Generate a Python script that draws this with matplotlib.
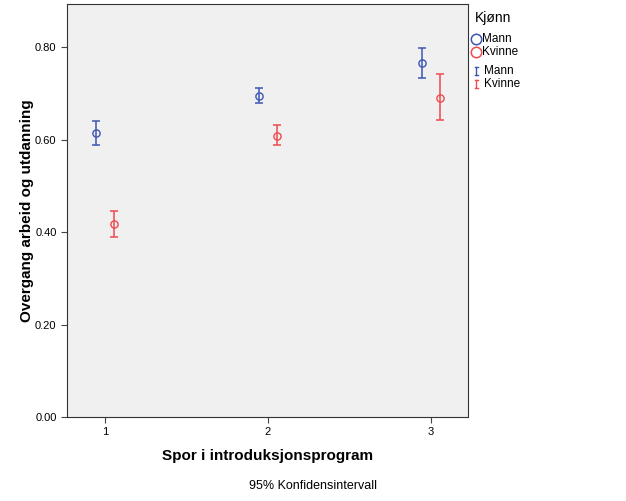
import numpy as np
import matplotlib
matplotlib.use("Agg")
import matplotlib.pyplot as plt

plt.rcParams['font.family'] = ['Liberation Sans', 'DejaVu Sans']

# data
spor = [1, 2, 3]
mann_mean = [0.614, 0.693, 0.765]
mann_lo = [0.589, 0.679, 0.732]
mann_hi = [0.641, 0.711, 0.798]
kvinne_mean = [0.418, 0.608, 0.690]
kvinne_lo = [0.389, 0.588, 0.642]
kvinne_hi = [0.446, 0.631, 0.741]

blue = '#3d56b3'
red = '#ee4a50'

fig = plt.figure(figsize=(6.26, 5.01), dpi=100)
ax = fig.add_axes([67/626, 1-417/501, (468-67)/626, (417-4)/501])
ax.set_facecolor('#f0f0f0')

x = np.array(spor)
for off, m, lo, hi, c in [(-0.055, mann_mean, mann_lo, mann_hi, blue),
                          (0.055, kvinne_mean, kvinne_lo, kvinne_hi, red)]:
    m = np.array(m)
    err = [m - np.array(lo), np.array(hi) - m]
    ax.errorbar(x + off, m, yerr=err, fmt='none', ecolor=c, elinewidth=1.1,
                capsize=3, capthick=1.1)
    ax.plot(x + off, m, 'o', mfc='none', mec=c, ms=5.2, mew=1.0)

ax.set_xlim(0.767, 3.227)
ax.set_ylim(0, 0.893)
ax.set_xticks(spor)
ax.set_yticks([0, 0.2, 0.4, 0.6, 0.8])
ax.set_yticklabels(['0.00', '0.20', '0.40', '0.60', '0.80'])
ax.tick_params(labelsize=8, length=4, color='#444444')
for s in ax.spines.values():
    s.set_color('#333333')

ax.set_xlabel('Spor i introduksjonsprogram', fontsize=11, fontweight='bold', labelpad=8)
ax.set_ylabel('Overgang arbeid og utdanning', fontsize=11, fontweight='bold', labelpad=1)
fig.text(313/626, 1-486/501, '95% Konfidensintervall', ha='center', va='center', fontsize=9)

# legend drawn by hand
fig.text(475/626, 1-18/501, 'Kjønn', fontsize=10, va='center')
fig.lines.append(plt.Line2D([476/626], [1-39/501], marker='o', mfc='none', mec=blue,
                            ms=7.5, mew=1.1, transform=fig.transFigure))
fig.lines.append(plt.Line2D([476/626], [1-52/501], marker='o', mfc='none', mec=red,
                            ms=7.5, mew=1.1, transform=fig.transFigure))
fig.text(482/626, 1-39/501, 'Mann', fontsize=8.5, va='center')
fig.text(482/626, 1-52/501, 'Kvinne', fontsize=8.5, va='center')
for yy, c, lab in [(71, blue, 'Mann'), (84, red, 'Kvinne')]:
    fig.lines.append(plt.Line2D([476/626, 476/626], [1-(yy-4)/501, 1-(yy+4)/501],
                                color=c, lw=1, transform=fig.transFigure))
    for cy in (yy-4, yy+4):
        fig.lines.append(plt.Line2D([474.5/626, 477.5/626], [1-cy/501, 1-cy/501],
                                    color=c, lw=1, transform=fig.transFigure))
    fig.text(484/626, 1-yy/501, lab, fontsize=8.5, va='center')

fig.savefig('out.png', dpi=100)
